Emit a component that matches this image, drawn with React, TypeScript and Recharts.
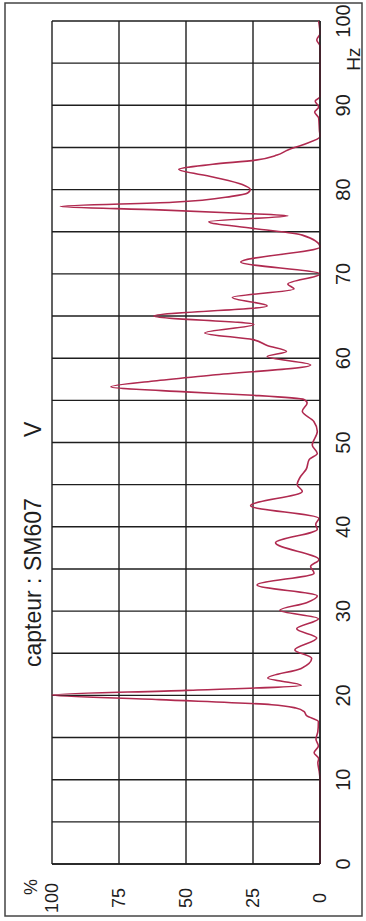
import { LineChart, Line, XAxis, YAxis, CartesianGrid } from 'recharts';

// spectre du capteur SM607, voie V (fréquence en Hz, amplitude en %)
const hz = [
  0, 2, 4, 6, 8, 10, 11, 12, 12.5, 13.2, 14, 14.8, 15.7, 16.9, 17.6, 18.1, 18.5, 18.9,
  19.5, 20.05, 20.6, 21.2, 22.05, 23.2, 24.4, 25.4, 26.8, 27.9, 29.1, 30.1, 31.0, 31.8,
  33.1, 34.5, 35.3, 36.1, 38.1, 39.7, 40.3, 41.0, 42.5, 44.2, 45.0, 46.0, 46.8, 48.0,
  48.7, 49.7, 51.3, 52.5, 53.7, 54.7, 55.1, 55.6, 56.0, 56.6, 57.3, 58.0, 59.2, 60.2,
  60.8, 61.5, 62.2, 63.0, 64.0, 65.0, 66.2, 67.2, 68.2, 68.8, 70.0, 71.4, 73.2, 74.6,
  75.4, 76.2, 76.9, 77.2, 77.6, 78.0, 78.5, 79.2, 79.6, 80.0, 80.6, 81.5, 82.4, 83.0,
  83.5, 84.1, 84.7, 85.3, 86.3, 87.0, 88.5, 89.2, 89.8, 90.5, 91.0, 93.0, 95.0, 97.0,
  97.75, 98.5, 100,
];
const pct = [
  0, 0, 0, 0, 0, 0, 0.3, 0.8, 0.5, 2.2, 0.6, 1.5, 0.8, 0.6, 5, 6, 9, 18,
  60, 100, 50, 7, 19.5, 7, 3.1, 9.4, 1.2, 8.7, 0.6, 15, 5, 1,
  23.5, 2.2, 3.5, 0.4, 16.6, 1, 1.6, 0.4, 25.9, 6.6, 8.5, 7.2, 5.2, 4,
  1, 2.9, 1, 2.3, 6.6, 4.8, 6, 25, 50, 78, 62, 40, 3.5, 19.7,
  12.5, 19.7, 25, 43, 24.7, 62, 19.7, 32.7, 9.7, 12, 0, 29.6, 0, 6.6,
  25, 41.5, 12, 30, 60, 97, 55, 33, 27, 26, 29, 40, 52.7, 40,
  24, 16, 12, 6.6, 0, 0.2, 0.5, 2, 0.5, 1.8, 0, 0, 0, 0,
  1.2, 0, 0.5,
];

const hzTicks = [0, 5, 10, 15, 20, 25, 30, 35, 40, 45, 50, 55, 60, 65, 70, 75, 80, 85, 90, 95, 100];
const pctTicks = [0, 25, 50, 75, 100];

const data = hz.map((f, i) => ({ hz: f, v: pct[i] }));

const FONT = 'Arial, "Liberation Sans", sans-serif';
const INK = '#1e1e1e';

function HzTick(props: any) {
  const { x, payload } = props;
  if (payload.value % 10 !== 0) return <g />;
  return (
    <text x={x} y={343} textAnchor="middle" dominantBaseline="central" fontSize={20} fontFamily={FONT} fill={INK}>
      {payload.value}
    </text>
  );
}

function PctTick(props: any) {
  const { y, payload } = props;
  return (
    <text x={23} y={y} textAnchor="middle" dominantBaseline="central" fontSize={18} fontFamily={FONT} fill={INK}>
      {payload.value}
    </text>
  );
}

export default function App() {
  // the chart is drawn landscape (921 x 366) then turned a quarter left
  return (
    <div style={{ position: 'absolute', left: 0, top: 0, width: 366, height: 921, overflow: 'hidden', background: '#fff' }}>
      <div
        style={{
          position: 'absolute',
          left: 0,
          top: 0,
          width: 921,
          height: 366,
          transformOrigin: '0 0',
          transform: 'translate(0px, 921px) rotate(-90deg)',
        }}
      >
        <LineChart width={921} height={366} data={data} margin={{ top: 52, right: 21, bottom: 0, left: 0 }}>
          <CartesianGrid stroke={INK} strokeWidth={1.4} />
          <XAxis
            dataKey="hz"
            type="number"
            domain={[0, 100]}
            ticks={hzTicks}
            interval={0}
            height={46}
            tickLine={false}
            tickSize={0}
            axisLine={{ stroke: INK, strokeWidth: 1.4 }}
            tick={<HzTick />}
          />
          <YAxis
            type="number"
            domain={[0, 100]}
            ticks={pctTicks}
            interval={0}
            width={57}
            tickLine={false}
            tickSize={0}
            axisLine={{ stroke: INK, strokeWidth: 1.4 }}
            tick={<PctTick />}
          />
          <Line
            dataKey="v"
            type="monotone"
            stroke="#b02a50"
            strokeWidth={1.6}
            dot={false}
            isAnimationActive={false}
          />
        </LineChart>
        <svg width={921} height={366} style={{ position: 'absolute', left: 0, top: 0, pointerEvents: 'none' }}>
          <rect x={5} y={5} width={913} height={357} fill="none" stroke="#444" strokeWidth={1.5} />
          <text x={254} y={33} dominantBaseline="central" fontSize={23} fontFamily={FONT} fill={INK}>
            capteur : SM607
          </text>
          <text x={484} y={33} dominantBaseline="central" fontSize={23} fontFamily={FONT} fill={INK}>
            V
          </text>
          <text x={34} y={31} textAnchor="middle" dominantBaseline="central" fontSize={18} fontFamily={FONT} fill={INK}>
            %
          </text>
          <text x={862} y={353} textAnchor="middle" dominantBaseline="central" fontSize={19} fontFamily={FONT} fill={INK}>
            Hz
          </text>
        </svg>
      </div>
    </div>
  );
}
